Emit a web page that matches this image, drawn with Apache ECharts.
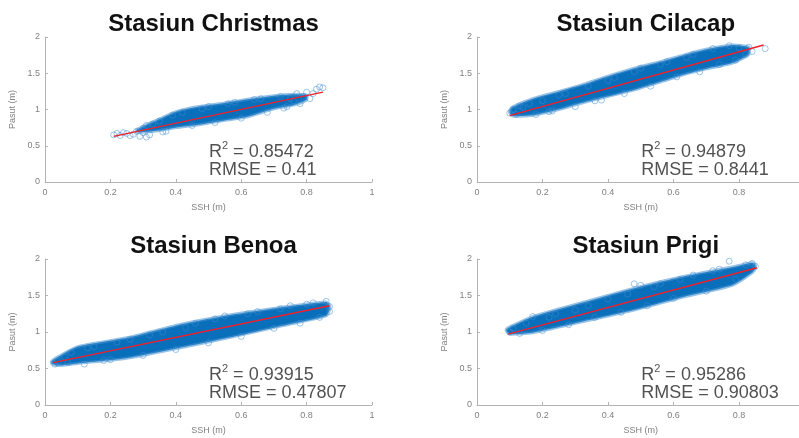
<!DOCTYPE html>
<html>
<head>
<meta charset="utf-8">
<script src="https://cdn.jsdelivr.net/npm/echarts@6/dist/echarts.min.js"></script>
<style>
  html, body { margin: 0; padding: 0; background: #fff; }
  #chart { width: 799px; height: 438px; }
</style>
</head>
<body>
<div id="chart"></div>
<script>
// values
const stations = ['Stasiun Christmas', 'Stasiun Cilacap', 'Stasiun Benoa', 'Stasiun Prigi'];
const r2Values = ['0.85472', '0.94879', '0.93915', '0.95286'];
const rmseValues = ['0.41', '0.8441', '0.47807', '0.90803'];
const xTicks = [0, 0.2, 0.4, 0.6, 0.8, 1];
const yTicks = [0, 0.5, 1, 1.5, 2];
const annoPos = [0.5, 0.3];

// dense part of each cloud: x, lower edge, upper edge
const christmasBandX  = [0.28, 0.31, 0.35, 0.40, 0.47, 0.55, 0.62, 0.70, 0.76, 0.80];
const christmasBandLo = [0.69, 0.69, 0.71, 0.75, 0.79, 0.85, 0.90, 1.01, 1.06, 1.13];
const christmasBandHi = [0.72, 0.79, 0.87, 0.97, 1.04, 1.09, 1.14, 1.19, 1.21, 1.20];
const cilacapBandX  = [0.10, 0.11, 0.17, 0.25, 0.32, 0.40, 0.48, 0.56, 0.63, 0.70, 0.78, 0.83];
const cilacapBandLo = [0.95, 0.91, 0.92, 1.00, 1.09, 1.18, 1.27, 1.38, 1.48, 1.56, 1.64, 1.76];
const cilacapBandHi = [0.99, 1.04, 1.15, 1.25, 1.34, 1.46, 1.57, 1.66, 1.75, 1.83, 1.89, 1.86];
const benoaBandX  = [0.02, 0.04, 0.10, 0.25, 0.41, 0.56, 0.71, 0.86, 0.87];
const benoaBandLo = [0.57, 0.54, 0.57, 0.64, 0.78, 0.92, 1.07, 1.22, 1.30];
const benoaBandHi = [0.60, 0.66, 0.80, 0.92, 1.10, 1.23, 1.33, 1.41, 1.37];
const prigiBandX  = [0.09, 0.10, 0.17, 0.32, 0.48, 0.63, 0.78, 0.84, 0.85];
const prigiBandLo = [1.01, 0.97, 0.99, 1.14, 1.30, 1.48, 1.64, 1.81, 1.87];
const prigiBandHi = [1.04, 1.07, 1.21, 1.40, 1.60, 1.76, 1.89, 1.95, 1.92];

// sparse circles around the edges
const christmasRings = [[0.21,0.65],[0.22,0.67],[0.23,0.64],[0.24,0.68],[0.25,0.67],[0.26,0.64],[0.27,0.66],[0.28,0.70],[0.29,0.63],[0.30,0.68],[0.31,0.62],[0.32,0.65],[0.30,0.74],[0.31,0.78],[0.33,0.80],[0.35,0.84],[0.36,0.69],[0.37,0.70],[0.39,0.92],[0.42,0.96],[0.45,0.78],[0.48,1.01],[0.50,1.04],[0.52,0.82],[0.56,1.08],[0.58,1.10],[0.60,0.88],[0.64,1.14],[0.66,1.15],[0.68,0.96],[0.72,1.18],[0.73,1.02],[0.74,1.04],[0.76,1.12],[0.77,1.22],[0.78,1.08],[0.80,1.24],[0.81,1.15],[0.82,1.22],[0.83,1.28],[0.84,1.31],[0.85,1.30],[0.79,1.18],[0.75,1.15]];
const cilacapRings = [[0.10,0.95],[0.11,1.00],[0.12,0.93],[0.13,1.05],[0.14,1.03],[0.16,1.08],[0.18,0.93],[0.20,1.12],[0.22,0.97],[0.23,0.98],[0.25,1.20],[0.27,1.22],[0.30,1.04],[0.34,1.32],[0.36,1.12],[0.38,1.13],[0.40,1.40],[0.42,1.44],[0.45,1.22],[0.48,1.52],[0.50,1.57],[0.53,1.32],[0.56,1.62],[0.58,1.66],[0.61,1.45],[0.64,1.72],[0.66,1.76],[0.68,1.52],[0.72,1.84],[0.74,1.62],[0.77,1.88],[0.79,1.68],[0.80,1.85],[0.82,1.76],[0.83,1.86],[0.84,1.80],[0.88,1.84]];
const benoaRings = [[0.03,0.56],[0.04,0.60],[0.06,0.66],[0.07,0.58],[0.08,0.72],[0.12,0.56],[0.13,0.78],[0.15,0.80],[0.18,0.61],[0.20,0.62],[0.22,0.86],[0.26,0.90],[0.30,0.68],[0.32,0.96],[0.36,1.00],[0.40,0.76],[0.43,1.06],[0.46,1.12],[0.50,0.85],[0.52,1.18],[0.55,1.22],[0.60,0.94],[0.62,1.25],[0.65,1.28],[0.70,1.05],[0.72,1.32],[0.75,1.36],[0.78,1.12],[0.80,1.38],[0.82,1.40],[0.84,1.20],[0.86,1.42],[0.87,1.35],[0.87,1.28]];
const prigiRings = [[0.10,1.00],[0.11,1.05],[0.13,0.98],[0.15,1.12],[0.17,1.21],[0.20,1.02],[0.22,1.20],[0.24,1.25],[0.28,1.10],[0.30,1.30],[0.34,1.36],[0.36,1.20],[0.40,1.45],[0.44,1.27],[0.46,1.52],[0.48,1.66],[0.50,1.64],[0.52,1.36],[0.54,1.62],[0.56,1.66],[0.60,1.46],[0.62,1.72],[0.66,1.78],[0.70,1.56],[0.72,1.84],[0.74,1.86],[0.77,1.97],[0.79,1.72],[0.82,1.92],[0.84,1.94],[0.85,1.90]];

// fitted lines (end points)
const christmasFit = [[0.21, 0.63], [0.85, 1.24]];
const cilacapFit = [[0.10, 0.915], [0.875, 1.89]];
const benoaFit = [[0.025, 0.58], [0.87, 1.36]];
const prigiFit = [[0.095, 0.97], [0.855, 1.88]];

const bandX = [christmasBandX, cilacapBandX, benoaBandX, prigiBandX];
const bandLo = [christmasBandLo, cilacapBandLo, benoaBandLo, prigiBandLo];
const bandHi = [christmasBandHi, cilacapBandHi, benoaBandHi, prigiBandHi];
const rings = [christmasRings, cilacapRings, benoaRings, prigiRings];
const fits = [christmasFit, cilacapFit, benoaFit, prigiFit];

const FONT = 'Liberation Sans';
const AXIS_COLOR = '#b3b3b3';
const LABEL_COLOR = '#808080';

const grids = [
  { left: 45, top: 37, width: 327, height: 145 },
  { left: 477, top: 37, width: 327.5, height: 145 },
  { left: 45, top: 259, width: 327, height: 146 },
  { left: 477, top: 259, width: 327.5, height: 146 }
].map(g => Object.assign(g, { containLabel: false, outerBoundsMode: 'none' }));

const chart = echarts.init(document.getElementById('chart'));

const xAxes = grids.map((g, i) => ({
  type: 'value', gridIndex: i,
  min: xTicks[0], max: xTicks[xTicks.length - 1], interval: xTicks[1] - xTicks[0],
  name: 'SSH (m)', nameLocation: 'middle', nameGap: 21,
  nameTextStyle: { fontFamily: FONT, fontSize: 9, color: LABEL_COLOR },
  axisLine: { show: true, lineStyle: { color: AXIS_COLOR } },
  axisTick: { show: true, inside: true, length: 3, lineStyle: { color: AXIS_COLOR } },
  axisLabel: { fontFamily: FONT, fontSize: 9, color: LABEL_COLOR, margin: 6 },
  splitLine: { show: false }
}));

const yAxes = grids.map((g, i) => ({
  type: 'value', gridIndex: i,
  min: yTicks[0], max: yTicks[yTicks.length - 1], interval: yTicks[1] - yTicks[0],
  name: 'Pasut (m)', nameLocation: 'middle', nameGap: 28,
  nameTextStyle: { fontFamily: FONT, fontSize: 9, color: LABEL_COLOR },
  axisLine: { show: true, lineStyle: { color: AXIS_COLOR } },
  axisTick: { show: true, inside: true, length: 3, lineStyle: { color: AXIS_COLOR } },
  axisLabel: { fontFamily: FONT, fontSize: 9, color: LABEL_COLOR, margin: 5 },
  splitLine: { show: false }
}));

const titles = grids.map((g, i) => ({
  text: stations[i],
  left: g.left + g.width / 2,
  top: g.top - 30,
  textAlign: 'center',
  textStyle: { fontFamily: FONT, fontSize: 24, fontWeight: 'bold', color: '#111' }
}));

const series = [];
grids.forEach((g, i) => {
  const bandData = bandX[i].map((x, k) => [x, bandLo[i][k], bandHi[i][k]]);
  series.push({
    type: 'custom', xAxisIndex: i, yAxisIndex: i, z: 1, silent: true,
    data: bandData,
    encode: { x: 0, y: [1, 2] },
    renderItem: (params, api) => {
      if (params.dataIndex !== 0) return;
      const pts = [];
      bandData.forEach(d => pts.push(api.coord([d[0], d[2]])));
      bandData.slice().reverse().forEach(d => pts.push(api.coord([d[0], d[1]])));
      return {
        type: 'polygon',
        shape: { points: pts, smooth: 0.2 },
        style: { fill: '#0a6fbb', stroke: 'rgba(70,145,210,0.55)', lineWidth: 3 }
      };
    }
  });
  series.push({
    type: 'scatter', xAxisIndex: i, yAxisIndex: i, z: 2, silent: true,
    data: rings[i], symbol: 'circle', symbolSize: 6,
    itemStyle: { color: 'rgba(0,0,0,0)', borderColor: '#3d8cd0', borderWidth: 1, opacity: 0.5 }
  });
  series.push({
    type: 'line', xAxisIndex: i, yAxisIndex: i, z: 3, silent: true,
    data: fits[i], symbol: 'none',
    lineStyle: { color: '#f0202a', width: 1.4, type: 'solid' }
  });
  // R^2 / RMSE text, anchored at a data position
  series.push({
    type: 'scatter', xAxisIndex: i, yAxisIndex: i, z: 4, silent: true,
    data: [annoPos], symbolSize: 1,
    itemStyle: { color: 'rgba(0,0,0,0)' },
    label: {
      show: true, position: 'right', distance: 0,
      formatter: '{a|R}{s|2}{a| = ' + r2Values[i] + '}\n{b|RMSE = ' + rmseValues[i] + '}',
      rich: {
        a: { fontFamily: FONT, fontSize: 18, lineHeight: 20, color: '#262626', verticalAlign: 'bottom' },
        s: { fontFamily: FONT, fontSize: 11, lineHeight: 12, color: '#262626', verticalAlign: 'top' },
        b: { fontFamily: FONT, fontSize: 18, lineHeight: 19, color: '#262626' }
      }
    }
  });
});

chart.setOption({
  animation: false,
  backgroundColor: '#fff',
  title: titles,
  grid: grids,
  xAxis: xAxes,
  yAxis: yAxes,
  series: series
});
</script>
</body>
</html>
